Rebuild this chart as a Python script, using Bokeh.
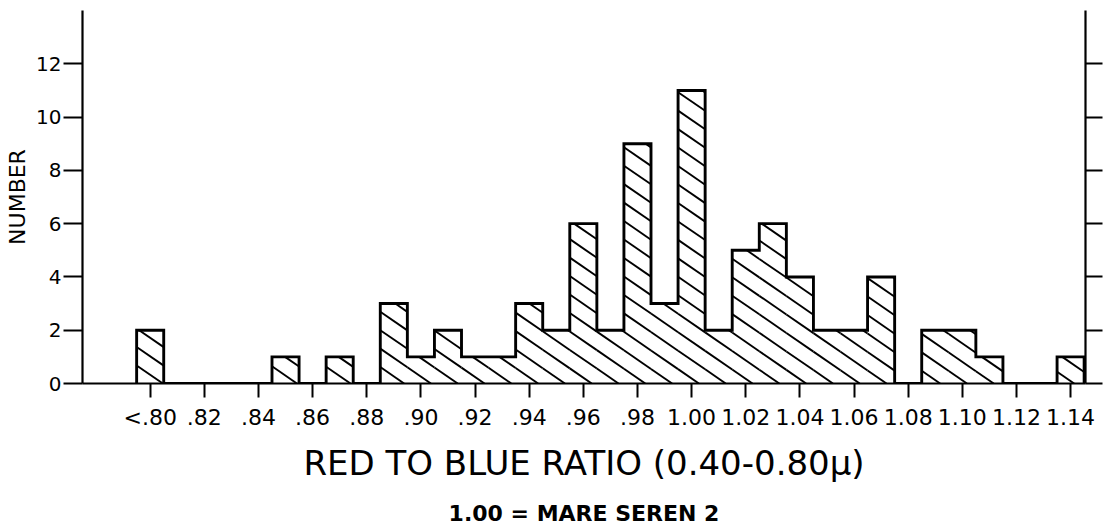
import math
from bokeh.plotting import figure
from bokeh.models import LinearAxis, FixedTicker, Range1d, ColumnDataSource
from bokeh.embed import file_html
from bokeh.resources import INLINE

# Histogram of red-to-blue ratios, bins 0.01 wide, centred on each ratio value
bin_centers = [0.80, 0.81, 0.82, 0.83, 0.84, 0.85, 0.86, 0.87, 0.88, 0.89,
               0.90, 0.91, 0.92, 0.93, 0.94, 0.95, 0.96, 0.97, 0.98, 0.99,
               1.00, 1.01, 1.02, 1.03, 1.04, 1.05, 1.06, 1.07, 1.08, 1.09,
               1.10, 1.11, 1.12, 1.13, 1.14]
counts = [2, 0, 0, 0, 0, 1, 0, 1, 0, 3,
          1, 2, 1, 1, 3, 2, 6, 2, 9, 3,
          11, 2, 5, 6, 4, 2, 2, 4, 0, 2,
          2, 1, 0, 0, 1]
bin_width = 0.01

x_tick_values = [0.80, 0.82, 0.84, 0.86, 0.88, 0.90, 0.92, 0.94, 0.96, 0.98,
                 1.00, 1.02, 1.04, 1.06, 1.08, 1.10, 1.12, 1.14]
x_tick_labels = ["<.80", ".82", ".84", ".86", ".88", ".90", ".92", ".94", ".96", ".98",
                 "1.00", "1.02", "1.04", "1.06", "1.08", "1.10", "1.12", "1.14"]
y_tick_values = [0, 2, 4, 6, 8, 10, 12]

x_title = "RED TO BLUE RATIO (0.40-0.80\u03bc)"
x_subtitle = "1.00 = MARE SEREN 2"
y_title = "NUMBER"

FONT = "DejaVu Sans"
X_START, X_END = 0.775, 1.1455

lefts = [c - bin_width / 2 for c in bin_centers]
rights = [c + bin_width / 2 for c in bin_centers]

# step outline of the whole histogram (only the outer edge is inked)
step_x = [lefts[0]]
step_y = [0]
for l, r, n in zip(lefts, rights, counts):
    step_x += [l, r]
    step_y += [n, n]
step_x.append(rights[-1])
step_y.append(0)

# shallow "\" hatching: one family of parallel lines y = -slope * (x - x_k),
# clipped to each bar
hatch_slope = 70.0      # counts per unit of ratio
hatch_step = 0.0099     # spacing of the lines along the baseline
hatch_xs, hatch_ys = [], []
for l, r, n in zip(lefts, rights, counts):
    if n <= 0:
        continue
    k0 = math.ceil((l - X_START) / hatch_step)
    k1 = math.floor((r + n / hatch_slope - X_START) / hatch_step)
    for k in range(k0, k1 + 1):
        xk = X_START + k * hatch_step
        xa = max(l, xk - n / hatch_slope)
        xb = min(r, xk)
        if xb - xa <= 1e-9:
            continue
        hatch_xs.append([xa, xb])
        hatch_ys.append([-hatch_slope * (xa - xk), -hatch_slope * (xb - xk)])

p = figure(width=1107, height=529, output_backend="svg", toolbar_location=None,
           x_range=Range1d(X_START, X_END), y_range=Range1d(0, 14),
           x_axis_type=None, y_axis_type=None,
           min_border_left=82, min_border_right=22,
           min_border_top=10, min_border_bottom=146)
p.outline_line_color = None
p.background_fill_color = "white"
p.border_fill_color = "white"

src = ColumnDataSource(dict(left=lefts, right=rights, top=counts,
                            bottom=[0] * len(counts)))
p.quad(left="left", right="right", top="top", bottom="bottom", source=src,
       fill_color="white", line_color=None)
p.multi_line(hatch_xs, hatch_ys, line_color="black", line_width=1.9)
p.line(step_x, step_y, line_color="black", line_width=2.9, line_join="miter")

# bottom axis with ratio ticks
xaxis = LinearAxis(ticker=FixedTicker(ticks=x_tick_values),
                   major_label_overrides=dict(zip(x_tick_values, x_tick_labels)),
                   axis_label=x_title)
xaxis.axis_line_width = 2.2
xaxis.axis_line_color = "black"
xaxis.major_tick_line_width = 2
xaxis.major_tick_line_color = "black"
xaxis.major_tick_out = 14
xaxis.major_tick_in = 0
xaxis.minor_tick_line_color = None
xaxis.major_label_text_font = FONT
xaxis.major_label_text_font_size = "22px"
xaxis.major_label_text_color = "black"
xaxis.major_label_standoff = 7
xaxis.axis_label_text_font = FONT
xaxis.axis_label_text_font_size = "34px"
xaxis.axis_label_text_font_style = "normal"
xaxis.axis_label_text_color = "black"
xaxis.axis_label_standoff = 10
p.add_layout(xaxis, "below")

# second line under the axis title
subaxis = LinearAxis(ticker=FixedTicker(ticks=[]), axis_label=x_subtitle)
subaxis.axis_line_color = None
subaxis.major_tick_line_color = None
subaxis.minor_tick_line_color = None
subaxis.major_label_standoff = 0
subaxis.axis_label_text_font = FONT
subaxis.axis_label_text_font_size = "22px"
subaxis.axis_label_text_font_style = "bold"
subaxis.axis_label_text_color = "black"
subaxis.axis_label_standoff = 15
p.add_layout(subaxis, "below")

# left count axis
yaxis = LinearAxis(ticker=FixedTicker(ticks=y_tick_values), axis_label=y_title)
yaxis.axis_line_width = 2.2
yaxis.axis_line_color = "black"
yaxis.major_tick_line_width = 2
yaxis.major_tick_line_color = "black"
yaxis.major_tick_out = 19
yaxis.major_tick_in = 0
yaxis.minor_tick_line_color = None
yaxis.major_label_text_font = FONT
yaxis.major_label_text_font_size = "20px"
yaxis.major_label_text_color = "black"
yaxis.major_label_standoff = 2
yaxis.axis_label_text_font = FONT
yaxis.axis_label_text_font_size = "22px"
yaxis.axis_label_text_font_style = "normal"
yaxis.axis_label_text_color = "black"
yaxis.axis_label_standoff = 3
p.add_layout(yaxis, "left")

# right axis: ticks only, no numbers
raxis = LinearAxis(ticker=FixedTicker(ticks=y_tick_values),
                   major_label_overrides={v: "" for v in y_tick_values})
raxis.axis_line_width = 2.2
raxis.axis_line_color = "black"
raxis.major_tick_line_width = 2
raxis.major_tick_line_color = "black"
raxis.major_tick_out = 17
raxis.major_tick_in = 0
raxis.minor_tick_line_color = None
raxis.major_label_standoff = 0
p.add_layout(raxis, "right")

open("out.html", "w").write(file_html(p, INLINE))
